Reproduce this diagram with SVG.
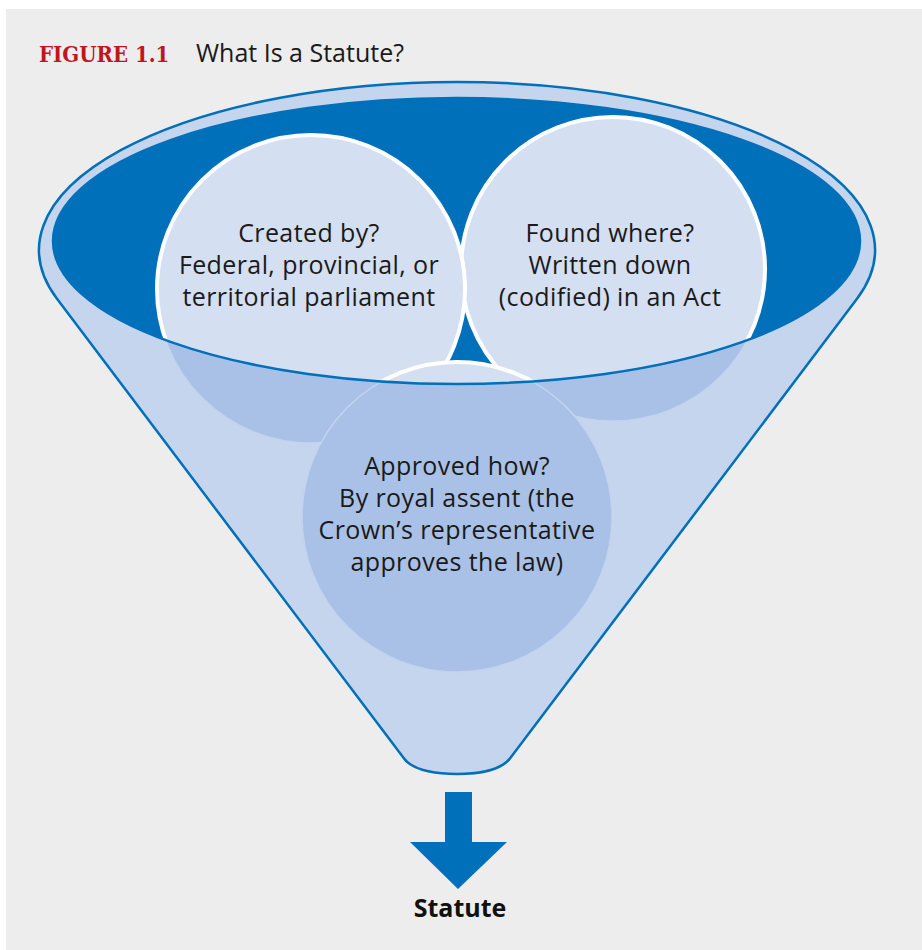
<svg xmlns="http://www.w3.org/2000/svg" width="922" height="950" viewBox="0 0 922 950">
  <style>
    .lbl { font-family: "Open Sans", "Noto Sans", "Liberation Sans", sans-serif; font-size: 25px; letter-spacing: 0.4px; fill: #1a1a1a; text-anchor: middle; }
    .med { fill: #a9c1e6; stroke: #c3d3ed; stroke-width: 1.5; }
    .lite { fill: #d4dff2; stroke: #ffffff; stroke-width: 4; }
    .blue { fill: #0070bb; }
  </style>
  <defs>
    <clipPath id="inside">
      <ellipse cx="456.5" cy="241" rx="403.5" ry="143"/>
    </clipPath>
    <clipPath id="outside">
      <path clip-rule="evenodd" d="M0,0 H922 V950 H0 Z M53,241 A403.5,143 0 1 0 860,241 A403.5,143 0 1 0 53,241 Z"/>
    </clipPath>
  </defs>

  <rect x="6" y="9" width="916" height="941" fill="#ededed"/>

  <g id="title">
    <text x="39" y="62" font-family="'DejaVu Serif Condensed', 'DejaVu Serif', serif" font-weight="bold" font-size="22" fill="#c0161f">FIGURE 1.1</text>
    <text x="196" y="62" font-family="'Open Sans', 'Noto Sans', sans-serif" font-size="25" fill="#1a1a1a">What Is a Statute?</text>
  </g>

  <g id="funnel">
    <path d="M57,298.8 A418,168 0 1 1 857,298.8 L510.3,758 C500,772 472,774 457,774 C442,774 413,772 403.7,758 Z" fill="#c5d5ee" stroke="#0070ba" stroke-width="2.5" stroke-linejoin="round"/>
    <ellipse cx="456.5" cy="241" rx="403.5" ry="143" class="blue"/>
  </g>

  <g id="node-found-where">
    <circle cx="613" cy="269" r="152" class="med" clip-path="url(#outside)"/>
    <circle cx="613" cy="269" r="152" class="lite" clip-path="url(#inside)"/>
    <text class="lbl" x="610" y="242">Found where?</text>
    <text class="lbl" x="610" y="274">Written down</text>
    <text class="lbl" x="610" y="306">(codified) in an Act</text>
  </g>

  <g id="node-created-by">
    <circle cx="311" cy="289" r="154" class="med" clip-path="url(#outside)"/>
    <circle cx="311" cy="289" r="154" class="lite" clip-path="url(#inside)"/>
    <text class="lbl" x="309" y="242">Created by?</text>
    <text class="lbl" x="309" y="274">Federal, provincial, or</text>
    <text class="lbl" x="309" y="306">territorial parliament</text>
  </g>

  <g id="node-approved-how">
    <circle cx="457" cy="517" r="155" class="med" clip-path="url(#outside)"/>
    <circle cx="457" cy="517" r="155" class="lite" clip-path="url(#inside)"/>
    <text class="lbl" x="457" y="475">Approved how?</text>
    <text class="lbl" x="457" y="507">By royal assent (the</text>
    <text class="lbl" x="457" y="539">Crown’s representative</text>
    <text class="lbl" x="457" y="571">approves the law)</text>
  </g>

  <g id="funnel-rim">
    <ellipse cx="456.5" cy="241" rx="403.5" ry="143" fill="none" stroke="#0070ba" stroke-width="2.5"/>
  </g>

  <g id="connectors">
    <path d="M445,792 H472 V842 H507 L458,889 L410,842 H445 Z" class="blue"/>
  </g>

  <g id="node-statute">
    <text x="460" y="917" font-family="'Open Sans', 'Noto Sans', sans-serif" font-weight="bold" font-size="25" fill="#111" text-anchor="middle">Statute</text>
  </g>
</svg>
